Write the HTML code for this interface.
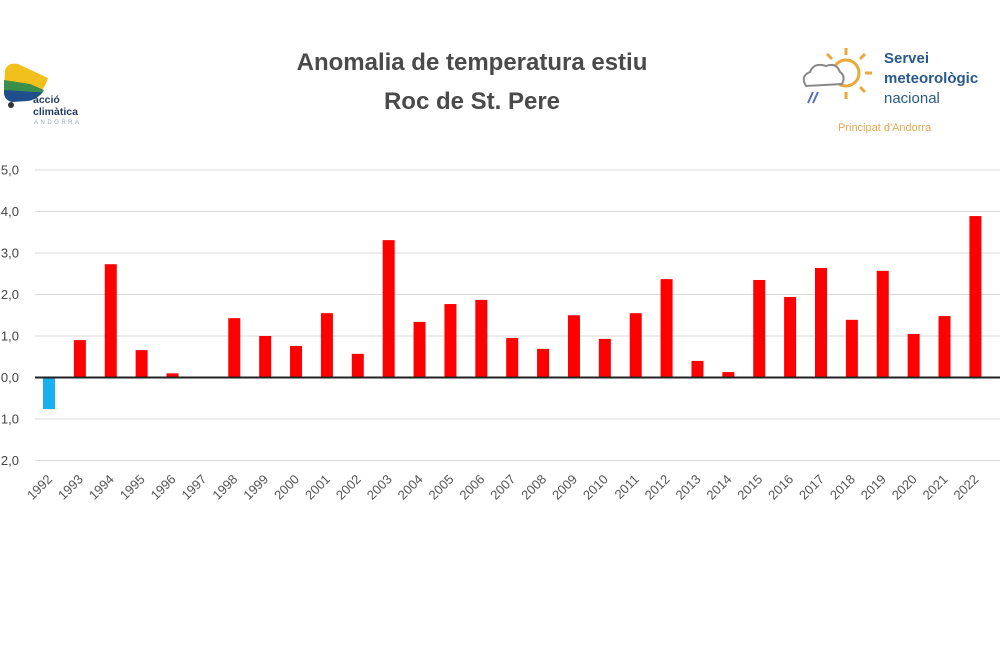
<!DOCTYPE html>
<html><head><meta charset="utf-8"><style>
body{margin:0;width:1000px;height:640px;background:#fff;overflow:hidden;font-family:"Liberation Sans",sans-serif}
</style></head><body>
<svg width="1000" height="640" xmlns="http://www.w3.org/2000/svg" font-family="Liberation Sans, sans-serif">
<text x="472" y="70" text-anchor="middle" font-size="24" font-weight="bold" fill="#4a4a4a">Anomalia de temperatura estiu</text>
<text x="472" y="109" text-anchor="middle" font-size="24" font-weight="bold" fill="#4a4a4a">Roc de St. Pere</text>
<!-- left logo -->
<path d="M5,70 Q8,62 18,64 L48,78 Q44,92 32,98 L12,102 Q4,100 4,92 Z" fill="#f2c01c"/>
<path d="M4,80 L30,84 L44,90 Q40,98 30,100 L12,102 Q4,100 4,92 Z" fill="#3a8f4a"/>
<path d="M4,90 L34,92 L42,92 Q36,100 28,101 L12,102 Q4,100 4,92 Z" fill="#1f4e8c"/>
<circle cx="11" cy="105" r="3" fill="#333"/>
<text x="33" y="103" font-size="10.5" font-weight="bold" fill="#1f3a5c">acció</text>
<text x="33" y="115" font-size="10.5" font-weight="bold" fill="#1f3a5c">climàtica</text>
<text x="34" y="124" font-size="6" letter-spacing="2.5" fill="#9ab">ANDORRA</text>
<!-- right logo -->
<circle cx="846" cy="73" r="13" fill="none" stroke="#e8a93a" stroke-width="3"/>
<g stroke="#e8a93a" stroke-width="3"><line x1="846" y1="48" x2="846" y2="55"/><line x1="865" y1="73" x2="872" y2="73"/><line x1="846" y1="92" x2="846" y2="99"/><line x1="860" y1="59" x2="865" y2="54"/><line x1="860" y1="87" x2="865" y2="92"/><line x1="832" y1="59" x2="827" y2="54"/></g>
<path d="M806,86 Q800,76 810,72 Q814,62 826,66 Q836,62 840,72 Q846,76 842,84 Z" fill="#fff" stroke="#888" stroke-width="2"/>
<g stroke="#5570c0" stroke-width="2"><line x1="808" y1="103" x2="813" y2="92"/><line x1="813" y1="103" x2="818" y2="92"/></g>
<text x="884" y="63" font-size="15" font-weight="bold" fill="#2a5a8a">Servei</text>
<text x="884" y="83" font-size="15" font-weight="bold" fill="#2a5a8a">meteorològic</text>
<text x="884" y="103" font-size="15" fill="#2a5a8a">nacional</text>
<text x="838" y="131" font-size="11" fill="#e0a850">Principat d'Andorra</text>
<!-- grid -->
<g stroke="#d9d9d9" stroke-width="1">
<line x1="35" x2="1000" y1="170" y2="170"/><line x1="35" x2="1000" y1="211.5" y2="211.5"/><line x1="35" x2="1000" y1="253" y2="253"/><line x1="35" x2="1000" y1="294.5" y2="294.5"/><line x1="35" x2="1000" y1="336" y2="336"/><line x1="35" x2="1000" y1="419" y2="419"/><line x1="35" x2="1000" y1="460.5" y2="460.5"/>
</g>
<g font-size="13" fill="#444" text-anchor="end">
<text x="19" y="174.5">5,0</text><text x="19" y="216">4,0</text><text x="19" y="257.5">3,0</text><text x="19" y="299">2,0</text><text x="19" y="340.5">1,0</text><text x="19" y="382">0,0</text><text x="19" y="423.5">1,0</text><text x="19" y="465">2,0</text>
</g>
<g id="bars"></g>
<line x1="35" x2="1000" y1="377.5" y2="377.5" stroke="#222" stroke-width="2"/>
<g id="labels" font-size="13" fill="#555"></g>
</svg>
<script>
var v=[-0.76,0.9,2.73,0.66,0.1,0,1.43,1.0,0.76,1.55,0.57,3.31,1.34,1.77,1.87,0.95,0.69,1.5,0.93,1.55,2.37,0.4,0.13,2.35,1.94,2.64,1.39,2.57,1.05,1.48,3.89];
var ns="http://www.w3.org/2000/svg",b=document.getElementById('bars'),l=document.getElementById('labels');
v.forEach(function(d,i){var cx=49+i*30.88,h=Math.abs(d)*41.5;
var r=document.createElementNS(ns,'rect');r.setAttribute('x',cx-6);r.setAttribute('width',12);
r.setAttribute('y',d>=0?377.5-h:377.5);r.setAttribute('height',h);r.setAttribute('fill',d>=0?'#ff0000':'#1ab0ef');b.appendChild(r);
var t=document.createElementNS(ns,'text');t.setAttribute('text-anchor','end');
t.setAttribute('transform','translate('+(cx+4)+',480) rotate(-45)');t.textContent=1992+i;l.appendChild(t);});
</script>
</body></html>
